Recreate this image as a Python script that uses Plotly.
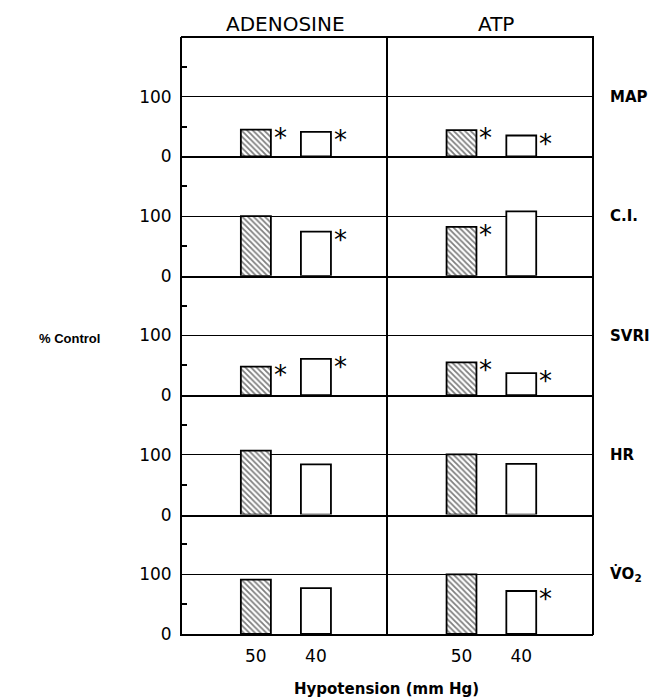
import plotly.graph_objects as go
from plotly.subplots import make_subplots

variables = ["MAP", "C.I.", "SVRI", "HR", "V\u0307O<sub>2</sub>"]
drugs = ["ADENOSINE", "ATP"]
hypotension_levels = ["50", "40"]
adenosine_50 = [45, 100, 48, 107, 91]
adenosine_40 = [41, 74, 61, 84, 77]
atp_50 = [44, 82, 55, 101, 100]
atp_40 = [35, 108, 37, 85, 72]
adenosine_50_sig = [True, False, True, False, False]
adenosine_40_sig = [True, True, True, False, False]
atp_50_sig = [True, True, True, False, False]
atp_40_sig = [True, False, True, False, True]
y_ticks = [0, 100]
y_tick_text = ["0", "100"]
y_minor = [50, 150]

data = {
    "ADENOSINE": [(adenosine_50, adenosine_50_sig), (adenosine_40, adenosine_40_sig)],
    "ATP": [(atp_50, atp_50_sig), (atp_40, atp_40_sig)],
}

# page offset (body margin of the html page)
OFF = 8
FW, FH = 657 - OFF, 700 - OFF


def px(x):
    return (x - OFF) / FW


def py(y):
    return 1 - (y - OFF) / FH


FONT = "DejaVu Sans"
BOLD = "DejaVu Sans"
nrows = len(variables)
fig = make_subplots(rows=nrows, cols=2, horizontal_spacing=0, vertical_spacing=0)

x_pos = [1, 2]
bar_w = 0.5
col_x = [(182, 388), (388, 593)]
top_px, row_h = 37, 119.4
LW = 2

annotations = []
for r in range(nrows):
    for c, drug in enumerate(drugs):
        idx = r * 2 + c + 1
        xref = "x" if idx == 1 else f"x{idx}"
        yref = "y" if idx == 1 else f"y{idx}"
        for k, (vals, sig) in enumerate(data[drug]):
            hatched = k == 0
            fig.add_trace(go.Bar(
                x=[x_pos[k]], y=[vals[r]], width=bar_w,
                marker=dict(
                    color="white",
                    line=dict(color="black", width=1.8),
                    pattern=dict(shape="\\" if hatched else "", fgcolor="black",
                                 bgcolor="white", size=4, solidity=0.45),
                ),
                showlegend=False, hoverinfo="skip",
            ), row=r + 1, col=c + 1)
            if sig[r]:
                annotations.append(dict(
                    x=x_pos[k] + bar_w / 2, y=vals[r], xref=xref, yref=yref,
                    text="*", showarrow=False, xanchor="left", yanchor="top",
                    xshift=1, yshift=9,
                    font=dict(family=FONT, size=26, color="black"),
                ))
        x0, x1 = col_x[c]
        t = top_px + row_h * r
        b = t + row_h
        fig.update_xaxes(
            domain=[px(x0), px(x1)], range=[-0.23, 3.2],
            showline=True, linecolor="black", linewidth=LW, mirror=False,
            showgrid=False, zeroline=False,
            tickvals=x_pos, ticktext=hypotension_levels,
            showticklabels=(r == nrows - 1),
            ticks="", tickfont=dict(family=FONT, size=17, color="black"),
            ticklabelstandoff=6,
            automargin=False,
            row=r + 1, col=c + 1,
        )
        fig.update_yaxes(
            domain=[py(b), py(t)], range=[0, 200],
            showline=True, linecolor="black", linewidth=LW, mirror=False,
            tickvals=y_ticks, ticktext=y_tick_text,
            showticklabels=(c == 0),
            showgrid=True, gridcolor="black", gridwidth=1.4,
            zeroline=False, ticks="",
            minor=dict(tickvals=y_minor, ticks="inside" if c == 0 else "",
                       ticklen=5, tickcolor="black", tickwidth=1.8, showgrid=False),
            tickfont=dict(family=FONT, size=17, color="black"),
            ticklabelstandoff=5,
            automargin=False,
            row=r + 1, col=c + 1,
        )
    # row label, level with the 100 line of the row
    annotations.append(dict(
        x=px(608), y=100, xref="paper", yref="y" if r == 0 else f"y{r * 2 + 1}",
        text=variables[r], showarrow=False,
        xanchor="left", yanchor="middle",
        font=dict(family=BOLD, size=15, color="black", weight="bold"),
    ))

for c, drug in enumerate(drugs):
    x0, x1 = col_x[c]
    annotations.append(dict(
        x=px((x0 + x1) / 2 + (5 if c == 1 else 0)), y=py(24), xref="paper", yref="paper",
        text=drug, showarrow=False, xanchor="center", yanchor="middle",
        font=dict(family=FONT, size=20, color="black"),
    ))

annotations.append(dict(
    x=px(69), y=py(338), xref="paper", yref="paper", text="% Control",
    showarrow=False, xanchor="center", yanchor="middle",
    font=dict(family="Liberation Sans", size=13, color="black", weight="bold"),
))
annotations.append(dict(
    x=px(386), y=py(689), xref="paper", yref="paper", text="Hypotension (mm Hg)",
    showarrow=False, xanchor="center", yanchor="middle",
    font=dict(family=BOLD, size=15, color="black", weight="bold"),
))

# outer frame: top edge and right edge
shapes = [
    dict(type="line", xref="paper", yref="paper",
         x0=px(col_x[0][0]) - 1 / FW, x1=px(col_x[1][1]) + 1 / FW,
         y0=py(top_px), y1=py(top_px), line=dict(color="black", width=LW)),
    dict(type="line", xref="paper", yref="paper",
         x0=px(col_x[1][1]), x1=px(col_x[1][1]),
         y0=py(top_px), y1=py(top_px + row_h * nrows) - 1 / FH,
         line=dict(color="black", width=LW)),
]

fig.update_layout(
    width=FW, height=FH, margin=dict(l=0, r=0, t=0, b=0),
    paper_bgcolor="white", plot_bgcolor="white",
    annotations=annotations, shapes=shapes, barmode="overlay",
)
fig.write_html("out.html")
